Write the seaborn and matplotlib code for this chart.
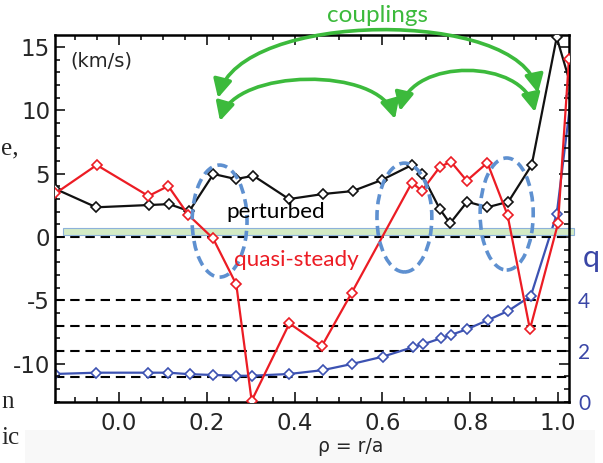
import matplotlib
matplotlib.use("Agg")
import matplotlib.pyplot as plt
import seaborn as sns
from matplotlib.patches import Ellipse, Rectangle, FancyArrowPatch, ArrowStyle
from matplotlib.path import Path
from matplotlib.transforms import IdentityTransform
from matplotlib.ticker import MultipleLocator, FixedLocator

# ---------------- data ----------------
rho_perturbed = [-0.145, -0.052, 0.068, 0.114, 0.160, 0.215, 0.266, 0.306, 0.387,
                 0.465, 0.532, 0.598, 0.667, 0.690, 0.731, 0.754, 0.793, 0.839,
                 0.887, 0.940, 0.997, 1.040]
v_perturbed = [3.8, 2.35, 2.53, 2.6, 2.05, 4.98, 4.58, 4.84, 3.0,
               3.4, 3.63, 4.5, 5.69, 4.95, 2.19, 1.08, 2.79, 2.35,
               2.79, 5.69, 15.77, 10.7]

rho_quasi = [-0.145, -0.051, 0.067, 0.112, 0.158, 0.214, 0.267, 0.302, 0.388,
             0.462, 0.530, 0.667, 0.690, 0.731, 0.756, 0.792, 0.839, 0.885,
             0.936, 1.000, 1.025]
v_quasi = [3.45, 5.69, 3.24, 4.03, 1.74, -0.1, -3.74, -12.93, -6.82,
           -8.61, -4.4, 4.29, 3.66, 5.55, 5.95, 4.45, 5.87, 1.74,
           -7.29, 1.08, 14.1]

rho_q = [-0.145, -0.052, 0.067, 0.112, 0.162, 0.215, 0.267, 0.302, 0.388,
         0.464, 0.530, 0.601, 0.669, 0.692, 0.733, 0.756, 0.793, 0.841,
         0.887, 0.938, 0.997, 1.030]
q_vals = [1.10, 1.15, 1.15, 1.15, 1.09, 1.06, 1.03, 1.03, 1.10,
          1.25, 1.49, 1.78, 2.15, 2.26, 2.50, 2.63, 2.86, 3.22,
          3.58, 4.16, 7.37, 12.0]

x_ticks = [0.0, 0.2, 0.4, 0.6, 0.8, 1.0]
x_tick_labels = ["0.0", "0.2", "0.4", "0.6", "0.8", "1.0"]
v_ticks = [-10, -5, 0, 5, 10, 15]
q_ticks = [0, 2, 4]
q_ref_levels = [1, 2, 3, 4]
coupling_centers = [0.229, 0.650, 0.883]

# ---------------- style ----------------
sns.set_style("white")
plt.rcParams["font.family"] = ["DejaVu Sans"]

RED = "#ec1c24"
BLUE = "#3c52b2"
QBLUE = "#3a46a6"
GREEN = "#3cba3c"
ELL = "#5e90d0"

W, H = 603, 463
fig = plt.figure(figsize=(W / 100, H / 100), dpi=100)

def fx(x):
    return x / W

def fy(y):
    return 1 - y / H

# light gray band at bottom
fig.patches.append(Rectangle((fx(25), 0), fx(595) - fx(25), fy(430), transform=fig.transFigure,
                             facecolor="#f8f8f8", edgecolor="none", zorder=0))

left, right, top, bottom = 55, 569, 35, 402
ax = fig.add_axes([fx(left), fy(bottom), (right - left) / W, (bottom - top) / H])
ax2 = ax.twinx()
ax.set_zorder(ax2.get_zorder() + 1)
ax.patch.set_visible(False)

# ---------------- q axis (behind) ----------------
for lvl in q_ref_levels:
    ax2.axhline(lvl, color="black", lw=1.5, ls=(0, (4.5, 2.8)), zorder=1)
sns.lineplot(x=rho_q, y=q_vals, ax=ax2, color=BLUE, lw=1.6, marker="D", markersize=5,
             markerfacecolor="white", markeredgecolor=BLUE, markeredgewidth=1.2,
             estimator=None, sort=False, zorder=3)
ax2.set_ylim(0, 14.4)
ax2.yaxis.set_major_locator(FixedLocator(q_ticks))
ax2.set_yticklabels([str(t) for t in q_ticks])
ax2.tick_params(axis="y", length=0, pad=6.5, labelsize=15, labelcolor=QBLUE)
for lab in ax2.get_yticklabels():
    lab.set_family(["Lato", "DejaVu Sans"])
for s in ax2.spines.values():
    s.set_visible(False)
ax2.set_ylabel("")

# ---------------- velocity axis ----------------
ax.axhline(0, color="black", lw=1.5, ls=(0, (4.5, 2.8)), zorder=1)
ax.add_patch(Rectangle((-0.128, 0.17), 1.036 + 0.128, 0.58, facecolor="#d3ebc5",
                       edgecolor="#8db2da", lw=0.8, zorder=1.5, clip_on=False))

sns.lineplot(x=rho_perturbed, y=v_perturbed, ax=ax, color="#111111", lw=1.6, marker="D",
             markersize=5, markerfacecolor="white", markeredgecolor="#111111",
             markeredgewidth=1.2, estimator=None, sort=False, zorder=3)
sns.lineplot(x=rho_quasi, y=v_quasi, ax=ax, color=RED, lw=1.6, marker="D",
             markersize=5, markerfacecolor="white", markeredgecolor=RED,
             markeredgewidth=1.2, estimator=None, sort=False, zorder=3)

for cx, cy, w, h in zip(coupling_centers, [1.26, 1.54, 1.82], [0.125, 0.125, 0.121], [8.85, 8.6, 8.85]):
    ax.add_patch(Ellipse((cx, cy), w, h, facecolor="none", edgecolor=ELL, lw=2.6,
                         ls=(0, (2.8, 1.6)), zorder=4, clip_on=False))

ax.set_xlim(-0.146, 1.025)
ax.set_ylim(-13.03, 15.96)
ax.set_xticks(x_ticks)
ax.set_xticklabels(x_tick_labels)
ax.set_yticks(v_ticks)
ax.set_yticklabels([str(t) for t in v_ticks])
ax.xaxis.set_minor_locator(MultipleLocator(0.05))
ax.yaxis.set_minor_locator(MultipleLocator(1))
ax.tick_params(which="both", direction="in", top=True, right=True, left=True, bottom=True,
               width=1.1, color="black")
ax.tick_params(which="major", length=7)
ax.tick_params(which="minor", length=3.6)
ax.tick_params(axis="x", which="major", pad=7, labelsize=16.5)
ax.tick_params(axis="y", which="major", pad=3.5, labelsize=16.5)
for s in ax.spines.values():
    s.set_linewidth(1.8)
    s.set_color("black")
ax.set_xlabel("")
ax.set_ylabel("")

# ---------------- texts ----------------
cal = ["Lato", "DejaVu Sans"]
fig.text(fx(70), fy(61), "(km/s)", fontsize=14, ha="left", va="center")
fig.text(fx(276), fy(212), "perturbed", fontsize=16.2, family=cal, ha="center", va="center", color="black")
fig.text(fx(296), fy(260), "quasi-steady", fontsize=16.2, family=cal, ha="center", va="center", color=RED)
fig.text(fx(377), fy(15), "couplings", fontsize=17.5, family=cal, ha="center", va="center", color=GREEN)
fig.text(fx(591), fy(258), "q", fontsize=22, family=cal, ha="center", va="center", color=QBLUE)
fig.text(fx(351), fy(446), "ρ = r/a", fontsize=13.5, ha="center", va="center")

serif = ["Liberation Serif", "DejaVu Serif"]
fig.text(fx(1), fy(148), "e,", fontsize=18, family=serif, ha="left", va="center")
fig.text(fx(1), fy(402), "n", fontsize=18, family=serif, ha="left", va="center")
fig.text(fx(1), fy(438), "ic", fontsize=18, family=serif, ha="left", va="center")

# ---------------- coupling arrows ----------------
def arc(A, C1, C2, B):
    verts = [(x, H - y) for (x, y) in (A, C1, C2, B)]
    path = Path(verts, [Path.MOVETO, Path.CURVE4, Path.CURVE4, Path.CURVE4])
    style = ArrowStyle("<|-|>", head_length=0.55, head_width=0.28)
    p = FancyArrowPatch(path=path, arrowstyle=style, mutation_scale=20, color=GREEN,
                        lw=2.6, transform=IdentityTransform(), zorder=6)
    fig.add_artist(p)

arc((218, 98), (240, 10), (520, 8), (538, 93))
arc((220, 121), (235, 68), (380, 66), (395, 119))
arc((400, 111), (412, 58), (523, 58), (535, 112))

fig.savefig("out.png", dpi=100)
